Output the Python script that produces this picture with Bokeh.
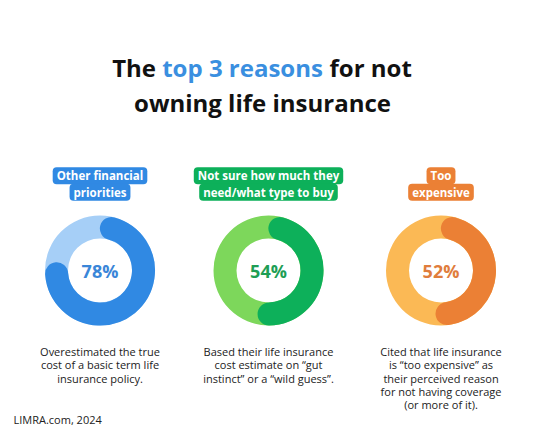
import math
from bokeh.plotting import figure
from bokeh.models import Range1d
from bokeh.core.properties import value
from bokeh.embed import file_html
from bokeh.resources import INLINE

# ---- data ----
labels_line1 = ["Other financial", "Not sure how much they", "Too"]
labels_line2 = ["priorities", "need/what type to buy", "expensive"]
percents = [78, 54, 52]
dark_colors = ["#3089E3", "#0DB05A", "#EB8035"]
light_colors = ["#A6CFF7", "#7DD75B", "#FBB955"]
pct_text_colors = ["#3A86D8", "#1E9E55", "#E07D3C"]
descriptions = [
    ["Overestimated the true", "cost of a basic term life", "insurance policy."],
    ["Based their life insurance", "cost estimate on \u201cgut", "instinct\u201d or a \u201cwild guess\u201d."],
    ["Cited that life insurance", "is \u201ctoo expensive\u201d as", "their perceived reason",
     "for not having coverage", "(or more of it)."],
]
source_text = "LIMRA.com, 2024"

# ---- layout (reference pixel coordinates; y converted) ----
W, H = 524, 427
def Y(yref):
    return H - yref

centers_x = [99.5, 268, 440.5]
center_y = 270
r_in, r_out = 32, 55
r_mid = (r_in + r_out) / 2
thick = r_out - r_in
FONT = value("Open Sans")

p = figure(width=W, height=H, x_range=Range1d(0, W), y_range=Range1d(0, H),
           output_backend="svg", toolbar_location=None, min_border=0)
p.axis.visible = False
p.grid.visible = False
p.outline_line_color = None
p.background_fill_color = "white"
p.border_fill_color = "white"

# title
ty1 = Y(66.7)
ty2 = Y(101.7)
TS = "24px"
p.text(x=[155.5], y=[ty1], text=["The"], text_font=FONT, text_font_style="bold",
       text_font_size=TS, text_color="#111111", text_align="right", text_baseline="alphabetic")
p.text(x=[161.7], y=[ty1], text=["top 3 reasons"], text_font=FONT, text_font_style="bold",
       text_font_size=TS, text_color="#3A8FE0", text_align="left", text_baseline="alphabetic")
p.text(x=[329], y=[ty1], text=["for not"], text_font=FONT, text_font_style="bold",
       text_font_size=TS, text_color="#111111", text_align="left", text_baseline="alphabetic")
p.text(x=[262], y=[ty2], text=["owning life insurance"], text_font=FONT, text_font_style="bold",
       text_font_size=TS, text_color="#111111", text_align="center", text_baseline="alphabetic")

cap_deg = math.degrees((thick / 2) / r_mid)

for i in range(3):
    cx = centers_x[i]
    # pill labels
    for j, line in enumerate([labels_line1[i], labels_line2[i]]):
        p.text(x=[cx], y=[Y(175.2 + 16.6 * j)], text=[line], text_font=FONT,
               text_font_style="bold", text_font_size="11.5px", text_color="white",
               text_align="center", text_baseline="middle",
               background_fill_color=dark_colors[i],
               padding=dict(left=4, right=4, top=1, bottom=1), border_radius=4)
    # donut
    p.annulus(x=[cx], y=[Y(center_y)], inner_radius=r_in, outer_radius=r_out,
              fill_color=light_colors[i], line_color=None)
    start = 90 - cap_deg
    end = 90 - percents[i] * 3.6 + cap_deg
    p.arc(x=[cx], y=[Y(center_y)], radius=r_mid, start_angle=start, end_angle=end,
          start_angle_units="deg", end_angle_units="deg", direction="clock",
          line_color=dark_colors[i], line_width=thick, line_cap="round")
    p.text(x=[cx], y=[Y(center_y)], text=[f"{percents[i]}%"], text_font=FONT,
           text_font_style="bold", text_font_size="18px", text_color=pct_text_colors[i],
           text_align="center", text_baseline="middle")
    # description
    for k, line in enumerate(descriptions[i]):
        p.text(x=[cx], y=[Y(350.6 + 13.45 * k)], text=[line], text_font=FONT,
               text_font_size="11px", text_color="#222222",
               text_align="center", text_baseline="middle")

p.text(x=[13], y=[Y(419)], text=[source_text], text_font=FONT, text_font_size="11px",
       text_color="#222222", text_align="left", text_baseline="middle")

open("out.html", "w").write(file_html(p, INLINE))
